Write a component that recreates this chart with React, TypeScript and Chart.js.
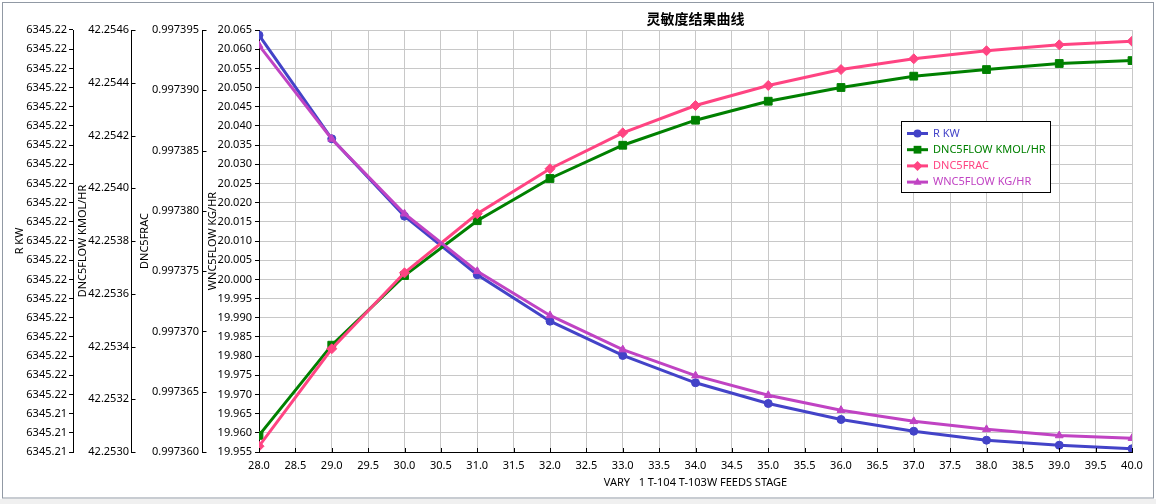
import React, { useEffect, useRef } from 'react';
import { Chart, registerables } from 'chart.js';

Chart.register(...registerables);

// ---- data ----
const stages = [28, 29, 30, 31, 32, 33, 34, 35, 36, 37, 38, 39, 40];
const rKw = [6345.224665, 6345.221964, 6345.219947, 6345.218419, 6345.21721, 6345.216316, 6345.215604, 6345.215064, 6345.214647, 6345.214342, 6345.214108, 6345.213977, 6345.213884];
const dnc5Flow = [42.253063, 42.253405, 42.253669, 42.253877, 42.254037, 42.254163, 42.254258, 42.25433, 42.254382, 42.254425, 42.25445, 42.254473, 42.254484];
const dnc5Frac = [0.99736048, 0.99736856, 0.99737486, 0.99737976, 0.99738349, 0.99738647, 0.99738874, 0.9973904, 0.99739172, 0.99739261, 0.99739328, 0.99739377, 0.99739407];
const wnc5Flow = [20.061, 20.0366, 20.0171, 20.0021, 19.9906, 19.9817, 19.9749, 19.9698, 19.9659, 19.963, 19.9609, 19.9593, 19.9586];

// axis ranges: [min, max, step, decimals]
const xAxisRange = [28, 40, 0.5, 1];
const rKwAxis = [6345.2138, 6345.2248, 0.0005, 2];
const dnc5FlowAxis = [42.253, 42.2546, 0.0002, 4];
const dnc5FracAxis = [0.99736, 0.997395, 0.000005, 6];
const wnc5FlowAxis = [19.955, 20.065, 0.005, 3];

const seriesNames = ['R KW', 'DNC5FLOW KMOL/HR', 'DNC5FRAC', 'WNC5FLOW KG/HR'];
const axisTitles = ['R KW', 'DNC5FLOW KMOL/HR', 'DNC5FRAC', 'WNC5FLOW KG/HR'];
const chartTitle = '灵敏度结果曲线';
const xTitle = 'VARY   1 T-104 T-103W FEEDS STAGE';

const colors = ['#4343c8', '#008000', '#ff4482', '#c043c3'];
const pointStyles = ['circle', 'rect', 'rectRot', 'triangle'];
const pointRadii = [4, 5.5, 5, 4.5];

const FONT = '"Noto Sans", "DejaVu Sans", sans-serif';

function makeTicks(axis: number[]) {
  const [min, max, step] = axis;
  const n = Math.round((max - min) / step);
  const out: { value: number }[] = [];
  for (let i = 0; i <= n; i++) out.push({ value: min + i * step });
  return out;
}

function yScale(axis: number[], weight: number, width: number, title: string, titlePad: number, onArea: boolean, outerTicks: boolean, pad: number) {
  return {
    type: 'linear',
    position: 'left',
    weight,
    min: axis[0],
    max: axis[1],
    afterBuildTicks: (s: any) => { s.ticks = makeTicks(axis); },
    afterFit: (s: any) => { s.width = width; },
    ticks: {
      autoSkip: false,
      padding: pad,
      color: '#000',
      font: { family: FONT, size: 11 },
      callback: (v: any) => Number(v).toFixed(axis[3]),
    },
    grid: {
      drawOnChartArea: onArea,
      drawTicks: outerTicks,
      color: '#c8c8c8',
      tickColor: '#000',
      tickLength: 4,
      lineWidth: 1,
    },
    border: { color: '#000', width: 1 },
    title: {
      display: true,
      text: title,
      color: '#000',
      font: { family: FONT, size: 11 },
      padding: { top: titlePad, bottom: 0 },
    },
  };
}

function drawMarker(ctx: CanvasRenderingContext2D, style: string, x: number, y: number, r: number) {
  ctx.beginPath();
  if (style === 'circle') {
    ctx.arc(x, y, r, 0, Math.PI * 2);
  } else if (style === 'rect') {
    const s = r * Math.SQRT1_2;
    ctx.rect(x - s, y - s, 2 * s, 2 * s);
  } else if (style === 'rectRot') {
    ctx.moveTo(x, y - r);
    ctx.lineTo(x + r, y);
    ctx.lineTo(x, y + r);
    ctx.lineTo(x - r, y);
    ctx.closePath();
  } else {
    ctx.moveTo(x, y - r);
    ctx.lineTo(x + r * 0.9, y + r * 0.6);
    ctx.lineTo(x - r * 0.9, y + r * 0.6);
    ctx.closePath();
  }
  ctx.fill();
}

const decorPlugin = {
  id: 'decor',
  beforeDraw(chart: any) {
    const ctx = chart.ctx as CanvasRenderingContext2D;
    const w = chart.width, h = chart.height;
    ctx.save();
    ctx.fillStyle = '#ffffff';
    ctx.fillRect(0, 0, w, h);
    ctx.fillStyle = '#f0f0f0';
    ctx.fillRect(0, 499, w, h - 499);
    ctx.strokeStyle = '#9199a4';
    ctx.lineWidth = 1;
    ctx.strokeRect(2.5, 2.5, 1151, 495.5);
    ctx.restore();
  },
  afterDraw(chart: any) {
    const ctx = chart.ctx as CanvasRenderingContext2D;
    const area = chart.chartArea;
    ctx.save();
    // inner x ticks
    const xs = chart.scales.x;
    ctx.strokeStyle = '#000';
    ctx.lineWidth = 1;
    for (const t of xs.ticks) {
      const px = Math.round(xs.getPixelForValue(t.value)) + 0.5;
      ctx.beginPath();
      ctx.moveTo(px, area.bottom - 4);
      ctx.lineTo(px, area.bottom);
      ctx.stroke();
    }
    // inner ticks for middle axes
    for (const id of ['yD', 'yF']) {
      const s = chart.scales[id];
      const xr = Math.round(s.right) + 0.5;
      for (const t of s.ticks) {
        const py = Math.round(s.getPixelForValue(t.value)) + 0.5;
        ctx.beginPath();
        ctx.moveTo(xr, py);
        ctx.lineTo(xr + 4, py);
        ctx.stroke();
      }
    }
    // title
    ctx.fillStyle = '#000';
    ctx.font = 'bold 14px "Noto Sans CJK SC", sans-serif';
    ctx.textAlign = 'center';
    ctx.textBaseline = 'middle';
    ctx.fillText(chartTitle, (area.left + area.right) / 2, 19);
    // legend
    const lx = 901.5, ly = 121.5, lw = 149, lh = 71;
    ctx.fillStyle = '#fff';
    ctx.fillRect(lx, ly, lw, lh);
    ctx.strokeStyle = '#000';
    ctx.lineWidth = 1;
    ctx.strokeRect(lx, ly, lw, lh);
    ctx.font = `11px ${FONT}`;
    ctx.textAlign = 'left';
    seriesNames.forEach((name, i) => {
      const y = 133.5 + i * 16.2;
      ctx.strokeStyle = colors[i];
      ctx.fillStyle = colors[i];
      ctx.lineWidth = 3;
      ctx.beginPath();
      ctx.moveTo(907, y);
      ctx.lineTo(928, y);
      ctx.stroke();
      drawMarker(ctx, pointStyles[i], 917.5, y, pointRadii[i]);
      ctx.fillText(name, 933, y);
    });
    ctx.restore();
  },
};

export default function App() {
  const ref = useRef<HTMLCanvasElement | null>(null);
  useEffect(() => {
    if (!ref.current) return;
    const series = [rKw, dnc5Flow, dnc5Frac, wnc5Flow];
    const axisIds = ['yR', 'yD', 'yF', 'yW'];
    const orders = [4, 3, 2, 1];
    const chart = new Chart(ref.current, {
      type: 'line',
      data: {
        datasets: series.map((vals, i) => ({
          label: seriesNames[i],
          data: stages.map((x, j) => ({ x, y: vals[j] })),
          yAxisID: axisIds[i],
          borderColor: colors[i],
          backgroundColor: colors[i],
          borderWidth: 3,
          pointStyle: pointStyles[i] as any,
          pointRadius: pointRadii[i],
          pointBorderWidth: 1,
          pointBorderColor: colors[i],
          pointBackgroundColor: colors[i],
          tension: 0,
          fill: false,
          order: orders[i],
        })),
      },
      options: {
        animation: false,
        responsive: false,
        maintainAspectRatio: false,
        layout: { padding: { left: 10, top: 30, right: 24, bottom: 0 } },
        plugins: {
          legend: { display: false },
          title: { display: false },
          tooltip: { enabled: false },
        },
        scales: {
          x: {
            type: 'linear',
            position: 'bottom',
            min: xAxisRange[0],
            max: xAxisRange[1],
            afterBuildTicks: (s: any) => { s.ticks = makeTicks(xAxisRange); },
            afterFit: (s: any) => { s.height = 52; },
            ticks: {
              autoSkip: false,
              maxRotation: 0,
              padding: 7,
              color: '#000',
              font: { family: FONT, size: 11 },
              callback: (v: any) => Number(v).toFixed(xAxisRange[3]),
            },
            grid: { color: '#c8c8c8', drawTicks: false },
            border: { color: '#000', width: 1 },
            title: {
              display: true,
              text: xTitle,
              color: '#000',
              font: { family: FONT, size: 11 },
              padding: { top: 0, bottom: 15 },
            },
          },
          yW: yScale(wnc5FlowAxis, 1, 57, axisTitles[3], 4.4, true, true, 3),
          yF: yScale(dnc5FracAxis, 2, 71, axisTitles[2], 7.4, false, false, 3),
          yD: yScale(dnc5FlowAxis, 3, 58, axisTitles[1], 3.4, false, false, 2),
          yR: yScale(rKwAxis, 4, 63, axisTitles[0], 3.4, false, true, 2),
        } as any,
      },
      plugins: [decorPlugin],
    } as any);
    return () => chart.destroy();
  }, []);
  return (
    <div style={{ position: 'absolute', left: 0, top: 0, width: 1156, height: 504 }}>
      <canvas ref={ref} width={1156} height={504} style={{ display: 'block' }} />
    </div>
  );
}
